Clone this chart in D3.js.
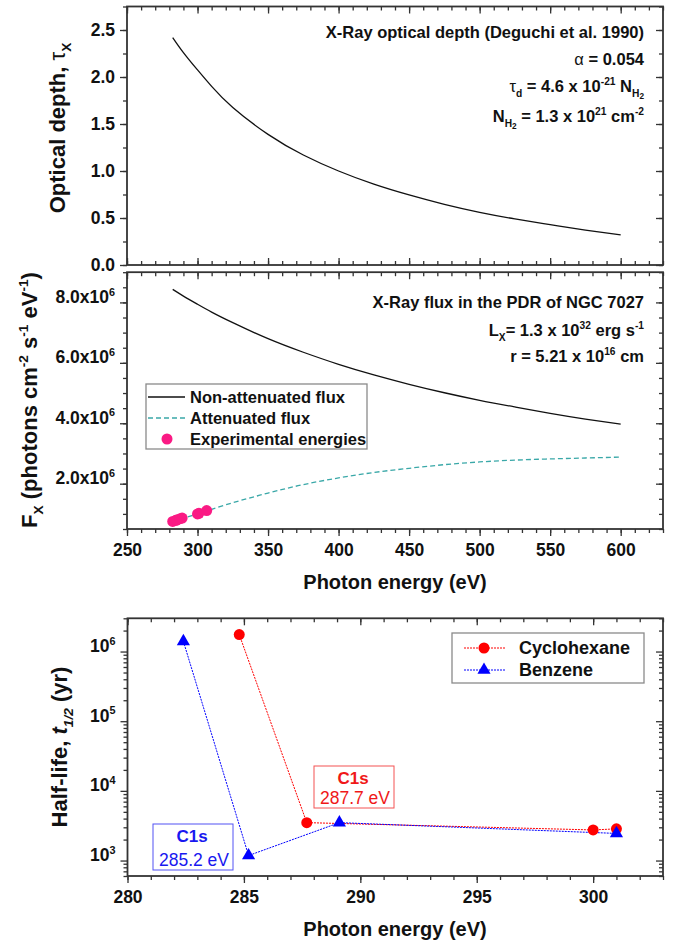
<!DOCTYPE html>
<html lang="en">
<head>
<meta charset="UTF-8">
<title>X-ray optical depth, flux and half-lives</title>
<style>
  body { margin: 0; background: #fff; }
  svg text { font-family: "Liberation Sans", Arial, sans-serif; }
  svg .tick text { font-weight: bold; }
</style>
</head>
<body>
<div id="chart"></div>
<script src="https://cdn.jsdelivr.net/npm/d3@7"></script>
<script>
// ---- data ----
var energyGrid   = [282.4, 290, 300, 310, 325, 350, 375, 400, 425, 450, 475, 500, 525, 550, 575, 600];
var opticalDepth = [2.42, 2.26, 2.075, 1.90, 1.675, 1.39, 1.17, 1.00, 0.86, 0.745, 0.645, 0.56, 0.49, 0.43, 0.372, 0.32];
var fluxNonAtt   = [8.43, 8.21, 7.94, 7.68, 7.33, 6.80, 6.35, 5.95, 5.60, 5.29, 5.01, 4.76, 4.54, 4.33, 4.14, 3.97]; // x1e6
var fluxAtt      = [0.75, 0.86, 1.00, 1.15, 1.37, 1.69, 1.97, 2.19, 2.37, 2.51, 2.63, 2.72, 2.78, 2.82, 2.85, 2.88]; // x1e6
var expEnergies  = [282.4, 284.8, 285.2, 287.7, 289.1, 300, 301, 306.5];
var expFlux      = [0.75, 0.79, 0.80, 0.84, 0.86, 1.00, 1.02, 1.11]; // x1e6

var cyclohexaneE = [284.8, 287.7, 300, 301];
var cyclohexaneT = [1.75e6, 3.5e3, 2.75e3, 2.85e3];
var benzeneE     = [282.4, 285.2, 289.1, 301];
var benzeneT     = [1.4e6, 1.18e3, 3.5e3, 2.45e3];

var tauTicks      = [0, 0.5, 1, 1.5, 2, 2.5];
var fluxTicks     = [2e6, 4e6, 6e6, 8e6];
var energyTicks   = [250, 300, 350, 400, 450, 500, 550, 600];
var halfETicks    = [280, 285, 290, 295, 300];
var halfLifeTicks = [1e3, 1e4, 1e5, 1e6];

var W = 685, H = 943;
var axisColor = "#333";
var tickFont = 17.5;

var svg = d3.select("#chart").append("svg")
    .attr("width", W).attr("height", H);
svg.append("rect").attr("width", W).attr("height", H).attr("fill", "#fff");

// rich text: parts = [[text, kind]] kind: n, sub, sup, sub2, tn (regular), it, itsub
function rich(t, parts, size) {
    var shift = 0;
    parts.forEach(function (p) {
        var k = p[1] || "n";
        var target = (k == "sup") ? -0.42 * size : (k == "sub" || k == "itsub") ? 0.28 * size : (k == "sub2") ? 0.42 * size : 0;
        var fs = (k == "n" || k == "tn" || k == "it") ? size : (k == "sub2") ? size * 0.5 : size * 0.62;
        var ts = t.append("tspan").attr("dy", target - shift).attr("font-size", fs).text(p[0]);
        if (k == "tn") ts.attr("font-weight", "normal");
        if (k == "it" || k == "itsub") ts.attr("font-style", "italic");
        shift = target;
    });
}

function styleAxis(g) {
    g.attr("font-weight", "bold");
    g.select(".domain").remove();
    g.selectAll(".tick line").attr("stroke", axisColor).attr("stroke-width", 1.3);
    g.selectAll(".tick text").attr("fill", "#111")
        .attr("font-size", tickFont).attr("font-weight", "bold");
}

function frame(x, y, opts) {
    var g = svg.append("g");
    var r = x.range(), ry = y.range();
    var top = ry[1], bot = ry[0];
    function ax(axis, tr, vals, size, fmt) {
        var a = g.append("g").attr("transform", tr)
            .call(axis.tickValues(vals).tickSizeInner(size).tickSizeOuter(0)
                .tickPadding(opts.pad || 7).tickFormat(fmt || ""));
        styleAxis(a);
        return a;
    }
    // bottom
    var bs = opts.bottomIn ? -7 : 7, bm = opts.bottomIn ? -4 : 4;
    opts.bottomAxis = ax(d3.axisBottom(x), "translate(0," + bot + ")", opts.xMajor, bs, opts.xFmt);
    ax(d3.axisBottom(x), "translate(0," + bot + ")", opts.xMinor, bm);
    // top (inward)
    ax(d3.axisTop(x), "translate(0," + top + ")", opts.xMajor, -7);
    ax(d3.axisTop(x), "translate(0," + top + ")", opts.xMinor, -4);
    // left (outward)
    opts.leftAxis = ax(d3.axisLeft(y), "translate(" + r[0] + ",0)", opts.yMajor, 7, opts.yFmt);
    ax(d3.axisLeft(y), "translate(" + r[0] + ",0)", opts.yMinor, 4);
    // right (inward)
    ax(d3.axisRight(y), "translate(" + r[1] + ",0)", opts.yMajor, -7);
    ax(d3.axisRight(y), "translate(" + r[1] + ",0)", opts.yMinor, -4);
    g.append("rect").attr("x", r[0]).attr("y", top)
        .attr("width", r[1] - r[0]).attr("height", bot - top)
        .attr("fill", "none").attr("stroke", axisColor).attr("stroke-width", 1.8);
    return g;
}

function minorRange(a, b, step) {
    return d3.range(a, b + step / 2, step);
}

// ---------------- top panel: optical depth ----------------
var xE = d3.scaleLinear().domain([250, 630]).range([127, 663]);
var yTau = d3.scaleLinear().domain([0, 2.75]).range([265, 6.5]);

frame(xE, yTau, {
    xMajor: energyTicks, xMinor: minorRange(250, 630, 10), bottomIn: true, xFmt: "",
    yMajor: tauTicks, yMinor: minorRange(0, 2.75, 0.25), yFmt: d3.format(".1f"), pad: 5
});

svg.append("path")
    .datum(energyGrid.map(function (e, i) { return [e, opticalDepth[i]]; }))
    .attr("fill", "none").attr("stroke", "#111").attr("stroke-width", 1.3)
    .attr("d", d3.line().x(function (d) { return xE(d[0]); }).y(function (d) { return yTau(d[1]); })
        .curve(d3.curveNatural));

var topNotes = svg.append("g").attr("font-weight", "bold").attr("fill", "#111").attr("text-anchor", "end");
rich(topNotes.append("text").attr("x", 644).attr("y", 38), [["X-Ray optical depth (Deguchi et al. 1990)"]], 16.5);
rich(topNotes.append("text").attr("x", 644).attr("y", 65), [["\u03b1", "tn"], [" = 0.054"]], 16.5);
rich(topNotes.append("text").attr("x", 644).attr("y", 92),
    [["\u03c4", "tn"], ["d", "sub"], [" = 4.6 x 10"], ["-21", "sup"], [" N"], ["H", "sub"], ["2", "sub2"]], 16.5);
rich(topNotes.append("text").attr("x", 644).attr("y", 122),
    [["N"], ["H", "sub"], ["2", "sub2"], [" = 1.3 x 10"], ["21", "sup"], [" cm"], ["-2", "sup"]], 16.5);

rich(svg.append("text").attr("transform", "translate(65,128) rotate(-90)")
    .attr("text-anchor", "middle").attr("font-weight", "bold").attr("fill", "#111"),
    [["Optical depth, "], ["\u03c4", "tn"], ["X", "sub"]], 22);

// ---------------- middle panel: X-ray flux ----------------
var yF = d3.scaleLinear().domain([0.5e6, 9e6]).range([529, 272.2]);

var mid = {
    xMajor: energyTicks, xMinor: minorRange(250, 630, 10), bottomIn: false, xFmt: d3.format("d"),
    yMajor: fluxTicks, yMinor: minorRange(0.5e6, 9e6, 0.5e6), yFmt: function (d) { return d; }, pad: 5
};
frame(xE, yF, mid);
mid.bottomAxis.selectAll(".tick text").attr("y", 15);
mid.leftAxis.selectAll(".tick text").each(function (d) {
    var t = d3.select(this).text(null);
    rich(t, [[(d / 1e6).toFixed(1) + "x10"], ["6", "sup"]], tickFont);
});

var lineF = d3.line().x(function (d) { return xE(d[0]); }).y(function (d) { return yF(d[1] * 1e6); })
    .curve(d3.curveNatural);
svg.append("path")
    .datum(energyGrid.map(function (e, i) { return [e, fluxNonAtt[i]]; }))
    .attr("fill", "none").attr("stroke", "#111").attr("stroke-width", 1.3).attr("d", lineF);
svg.append("path")
    .datum(energyGrid.map(function (e, i) { return [e, fluxAtt[i]]; }))
    .attr("fill", "none").attr("stroke", "#3aa8a8").attr("stroke-width", 1.3)
    .attr("stroke-dasharray", "5,3").attr("d", lineF);
svg.append("g").selectAll("circle")
    .data(expEnergies.map(function (e, i) { return [e, expFlux[i]]; }))
    .enter().append("circle")
    .attr("cx", function (d) { return xE(d[0]); })
    .attr("cy", function (d) { return yF(d[1] * 1e6); })
    .attr("r", 5.5).attr("fill", "#fa1a84");

var midNotes = svg.append("g").attr("font-weight", "bold").attr("fill", "#111").attr("text-anchor", "end");
rich(midNotes.append("text").attr("x", 644).attr("y", 308), [["X-Ray flux in the PDR of NGC 7027"]], 16.5);
rich(midNotes.append("text").attr("x", 644).attr("y", 336),
    [["L"], ["X", "sub"], ["= 1.3 x 10"], ["32", "sup"], [" erg s"], ["-1", "sup"]], 16.5);
rich(midNotes.append("text").attr("x", 644).attr("y", 362),
    [["r = 5.21 x 10"], ["16", "sup"], [" cm"]], 16.5);

// legend
var leg = svg.append("g");
leg.append("rect").attr("x", 146).attr("y", 384).attr("width", 221).attr("height", 65)
    .attr("fill", "#fff").attr("stroke", "#8a8a8a").attr("stroke-width", 1.3);
leg.append("line").attr("x1", 148).attr("x2", 185).attr("y1", 397).attr("y2", 397)
    .attr("stroke", "#111").attr("stroke-width", 1.3);
leg.append("line").attr("x1", 148).attr("x2", 185).attr("y1", 418).attr("y2", 418)
    .attr("stroke", "#3aa8a8").attr("stroke-width", 1.3).attr("stroke-dasharray", "5,3");
leg.append("circle").attr("cx", 167).attr("cy", 439).attr("r", 5.5).attr("fill", "#fa1a84");
["Non-attenuated flux", "Attenuated flux", "Experimental energies"].forEach(function (s, i) {
    leg.append("text").attr("x", 190).attr("y", 397 + 21 * i).attr("dy", "0.35em")
        .attr("font-size", 16.5).attr("font-weight", "bold").attr("fill", "#111").text(s);
});

rich(svg.append("text").attr("transform", "translate(37,400) rotate(-90)")
    .attr("text-anchor", "middle").attr("font-weight", "bold").attr("fill", "#111"),
    [["F"], ["X", "sub"], [" (photons cm"], ["-2", "sup"], [" s"], ["-1", "sup"], [" eV"], ["-1", "sup"], [")"]], 22);

svg.append("text").attr("x", 395).attr("y", 589).attr("text-anchor", "middle")
    .attr("font-size", 20).attr("font-weight", "bold").attr("fill", "#111").text("Photon energy (eV)");

// ---------------- bottom panel: half-lives ----------------
var xB = d3.scaleLinear().domain([280, 303]).range([127.5, 663]);
var yB = d3.scaleLog().domain([600, 3e6]).range([876, 618.3]);

var logMinor = [];
[100, 1e3, 1e4, 1e5, 1e6].forEach(function (p) {
    for (var m = 2; m <= 9; m++) {
        var v = m * p;
        if (v >= 600 && v <= 3e6) logMinor.push(v);
    }
});

var bot = {
    xMajor: halfETicks, xMinor: minorRange(280, 303, 1), bottomIn: false, xFmt: d3.format("d"),
    yMajor: halfLifeTicks, yMinor: logMinor, yFmt: function (d) { return d; }, pad: 5
};
frame(xB, yB, bot);
bot.bottomAxis.selectAll(".tick text").attr("y", 15);
bot.leftAxis.selectAll(".tick text").each(function (d) {
    var t = d3.select(this).text(null);
    rich(t, [["10"], [String(Math.round(Math.log10(d))), "sup"]], tickFont);
});

var red = "#ff0000", blue = "#0000ff";
var lineB = d3.line().x(function (d) { return xB(d[0]); }).y(function (d) { return yB(d[1]); });
var cyc = cyclohexaneE.map(function (e, i) { return [e, cyclohexaneT[i]]; });
var ben = benzeneE.map(function (e, i) { return [e, benzeneT[i]]; });

svg.append("path").datum(cyc).attr("fill", "none").attr("stroke", red)
    .attr("stroke-width", 1).attr("stroke-dasharray", "2,1").attr("d", lineB);
svg.append("path").datum(ben).attr("fill", "none").attr("stroke", blue)
    .attr("stroke-width", 1).attr("stroke-dasharray", "2,1").attr("d", lineB);

var tri = d3.symbol().type(d3.symbolTriangle).size(75);
svg.append("g").selectAll("circle").data(cyc).enter().append("circle")
    .attr("cx", function (d) { return xB(d[0]); }).attr("cy", function (d) { return yB(d[1]); })
    .attr("r", 5.5).attr("fill", red);
svg.append("g").selectAll("path").data(ben).enter().append("path")
    .attr("transform", function (d) { return "translate(" + xB(d[0]) + "," + yB(d[1]) + ")"; })
    .attr("d", tri).attr("fill", blue);

// annotation boxes
function callout(x, y, w, h, color, e) {
    var g = svg.append("g");
    g.append("rect").attr("x", x).attr("y", y).attr("width", w).attr("height", h)
        .attr("fill", "#fff").attr("stroke", color).attr("stroke-width", 1).attr("stroke-opacity", 0.75);
    g.append("text").attr("x", x + w / 2 - 1).attr("y", y + 18).attr("text-anchor", "middle")
        .attr("font-size", 17).attr("font-weight", "bold").attr("fill", color).text("C1s");
    g.append("text").attr("x", x + w / 2 + 1).attr("y", y + h - 4)
        .attr("text-anchor", "middle")
        .attr("font-size", 17.5).attr("fill", color).text(e);
}
callout(314, 766, 80, 42, "#f01818", "287.7 eV");
callout(153, 824, 80, 46, "#1818f0", "285.2 eV");

// legend
var legB = svg.append("g");
legB.append("rect").attr("x", 452).attr("y", 633).attr("width", 192).attr("height", 50)
    .attr("fill", "#fff").attr("stroke", "#8a8a8a").attr("stroke-width", 1.3);
[["Cyclohexane", red, "c"], ["Benzene", blue, "t"]].forEach(function (s, i) {
    var yy = 648 + 22 * i;
    legB.append("line").attr("x1", 464).attr("x2", 505).attr("y1", yy).attr("y2", yy)
        .attr("stroke", s[1]).attr("stroke-width", 1).attr("stroke-dasharray", "2,1");
    if (s[2] == "c") legB.append("circle").attr("cx", 484).attr("cy", yy).attr("r", 5.5).attr("fill", s[1]);
    else legB.append("path").attr("transform", "translate(484," + yy + ")").attr("d", tri).attr("fill", s[1]);
    legB.append("text").attr("x", 519).attr("y", yy).attr("dy", "0.35em")
        .attr("font-size", 18).attr("font-weight", "bold").attr("fill", "#111").text(s[0]);
});

rich(svg.append("text").attr("transform", "translate(67,747) rotate(-90)")
    .attr("text-anchor", "middle").attr("font-weight", "bold").attr("fill", "#111"),
    [["Half-life, "], ["t", "it"], ["1/2", "itsub"], [" (yr)"]], 22);

svg.append("text").attr("x", 395).attr("y", 936).attr("text-anchor", "middle")
    .attr("font-size", 20).attr("font-weight", "bold").attr("fill", "#111").text("Photon energy (eV)");
</script>
</body>
</html>
